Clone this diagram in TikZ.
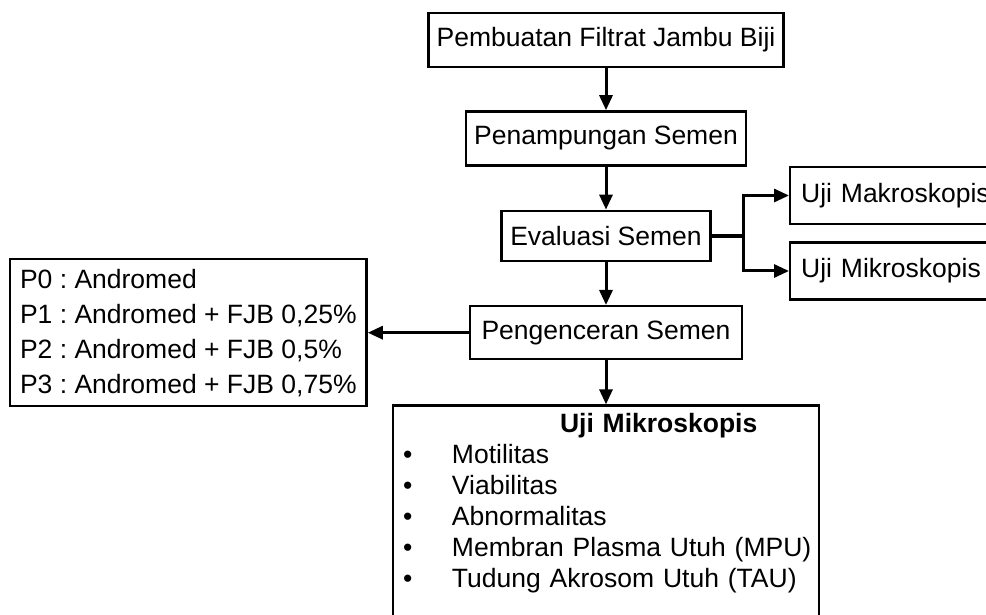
\documentclass[tikz,border=0pt]{standalone}
\usepackage{fontspec}
\setmainfont{Liberation Sans}
\usepackage{tikz}
\usetikzlibrary{arrows.meta,positioning}
\frenchspacing
\newcommand{\flowfont}{\fontsize{26.5}{35}\selectfont}
\newcommand{\listfont}{\fontsize{26.5}{31}\selectfont}
\newcommand{\bulletline}[1]{\mbox{\makebox[49pt][l]{\textbullet}#1}}
\tikzset{
  stepbox/.style={draw,line width=2.4pt,minimum height=54pt,inner xsep=8pt,font=\flowfont},
  sidebox/.style={draw,line width=2.4pt,minimum height=57pt,inner xsep=11pt,text width=189pt,
    align=left,anchor=west,font=\flowfont},
  listbox/.style={draw,line width=2.4pt,inner xsep=10pt,align=left},
  flowarrow/.style={-{Triangle[length=15pt,width=13pt]},line width=3pt},
  flowline/.style={line width=3.5pt}
}

\begin{document}
\begin{tikzpicture}[x=1pt,y=1pt,node distance=42pt]
  \useasboundingbox (0,0) rectangle (986,614);
  \clip (0,0) rectangle (986,614);
  \node[stepbox] (filtrat) at (606,574) {Pembuatan Filtrat Jambu Biji};
  \node[stepbox,below=of filtrat] (tampung) {Penampungan Semen};
  \node[stepbox,below=43pt of tampung,minimum height=50pt,minimum width=209pt] (evaluasi) {Evaluasi Semen};
  \node[stepbox,below=43pt of evaluasi,minimum height=53pt,minimum width=272pt] (encer) {Pengenceran Semen};
  \node[sidebox] (makro) at (789,418.5) {Uji Makroskopis};
  \node[sidebox] (mikro) at (789,343) {Uji Mikroskopis};
  \node[listbox,font=\flowfont,minimum width=356pt,minimum height=147pt,left=101pt of encer] (dosis)
    {P0 : Andromed\\P1 : Andromed + FJB 0,25\%\\P2 : Andromed + FJB 0,5\%\\P3 : Andromed + FJB 0,75\%};
  \node[listbox,font=\listfont,text width=406pt,inner ysep=8pt,text depth=200pt,below=44pt of encer] (ujimikro)
    {\hspace*{157pt}\textbf{Uji Mikroskopis}\\
     \bulletline{Motilitas}\\
     \bulletline{Viabilitas}\\
     \bulletline{Abnormalitas}\\
     \bulletline{Membran Plasma Utuh (MPU)}\\
     \bulletline{Tudung Akrosom Utuh (TAU)}};
  \draw[flowarrow] (filtrat) -- (tampung);
  \draw[flowarrow] (tampung) -- (evaluasi);
  \draw[flowarrow] (evaluasi) -- (encer);
  \draw[flowline] (evaluasi.east) -- ++(32,0) coordinate (cabang);
  \draw[flowarrow] (cabang) |- (makro.west);
  \draw[flowarrow] (cabang) |- (mikro.west);
  \draw[flowarrow] (encer.west) -- (dosis.east);
  \draw[flowarrow] (encer.south) -- (ujimikro.north);
\end{tikzpicture}
\end{document}
